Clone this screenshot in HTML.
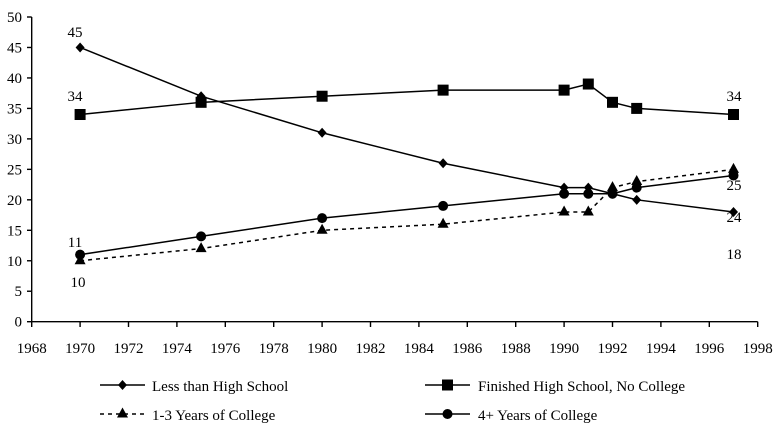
<!DOCTYPE html>
<html><head><style>body{margin:0;background:#fff}svg{display:block}text{font-family:"Liberation Serif",serif;font-size:15px;fill:#000}</style></head><body>
<svg width="777" height="427" xmlns="http://www.w3.org/2000/svg">
<g id="ax" stroke="#000" stroke-width="1.4" fill="none">
<line x1="31.7" y1="17" x2="31.7" y2="321.7"/>
<line x1="31.7" y1="321.7" x2="757.7" y2="321.7"/>
</g>
<g id="c"></g>
<text x="152" y="391">Less than High School</text>
<text x="478" y="391">Finished High School, No College</text>
<text x="152" y="420">1-3 Years of College</text>
<text x="478" y="420">4+ Years of College</text>
<script>
var ns="http://www.w3.org/2000/svg",g=document.getElementById('c');
function X(y){return 31.7+(y-1968)*24.2}function Y(v){return 321.7-v*6.094}
function el(t,a,txt){var e=document.createElementNS(ns,t);for(var k in a)e.setAttribute(k,a[k]);if(txt!=null)e.textContent=txt;g.appendChild(e);return e}
for(var v=0;v<=50;v+=5){el('line',{x1:27,x2:31.7,y1:Y(v),y2:Y(v),stroke:'#000','stroke-width':1.4});el('text',{x:22,y:Y(v)+5,'text-anchor':'end'},v)}
for(var y=1968;y<=1998;y+=2){el('line',{x1:X(y),x2:X(y),y1:321.7,y2:327,stroke:'#000','stroke-width':1.4});el('text',{x:X(y),y:353,'text-anchor':'middle'},y)}
var yrs=[1970,1975,1980,1985,1990,1991,1992,1993,1997];
var S=[[45,37,31,26,22,22,21,20,18],[34,36,37,38,38,39,36,35,34],[10,12,15,16,18,18,22,23,25],[11,14,17,19,21,21,21,22,24]];
function mk(t,x,y){if(t==0)el('path',{d:'M'+x+' '+(y-5)+'l4.5 5l-4.5 5l-4.5 -5z'});else if(t==1)el('rect',{x:x-5.5,y:y-5.5,width:11,height:11});else if(t==2)el('path',{d:'M'+x+' '+(y-6.5)+'l5.5 10h-11z'});else el('circle',{cx:x,cy:y,r:5})}
S.forEach(function(s,i){var p=s.map(function(v,j){return X(yrs[j])+','+Y(v)}).join(' ');el('polyline',{points:p,fill:'none',stroke:'#000','stroke-width':1.5,'stroke-dasharray':i==2?'4,4':'none'});s.forEach(function(v,j){mk(i,X(yrs[j]),Y(v))})});
var L=[[0,100,145,385],[1,425,470,385],[2,100,145,414],[3,425,470,414]];
L.forEach(function(l){el('line',{x1:l[1],x2:l[2],y1:l[3],y2:l[3],stroke:'#000','stroke-width':1.5,'stroke-dasharray':l[0]==2?'4,4':'none'});mk(l[0],(l[1]+l[2])/2,l[3])});
var lb=[[75,37,'45'],[75,101,'34'],[75,247,'11'],[78,287,'10'],[734,101,'34'],[734,190,'25'],[734,222,'24'],[734,259,'18']];
lb.forEach(function(l){el('text',{x:l[0],y:l[1],'text-anchor':'middle','font-size':14},l[2])});
</script>
</svg></body></html>
